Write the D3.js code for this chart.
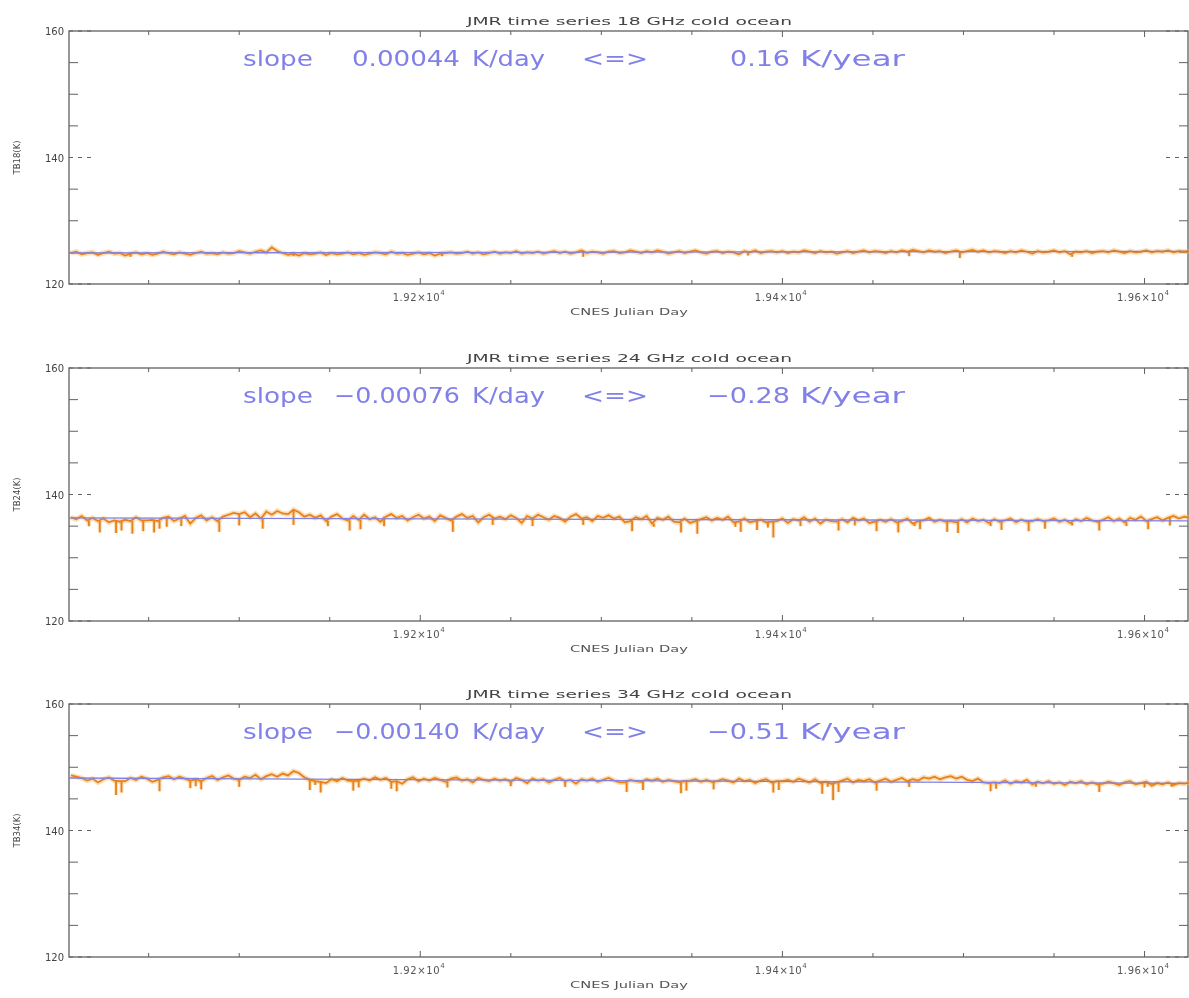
<!DOCTYPE html>
<html>
<head>
  <title>JMR time series</title>
    <meta charset="utf-8">
    <script src="https://d3js.org/d3.v7.min.js"></script>
    <style>
      body { margin: 0; background: #fff; overflow: hidden; }
      svg { display: block; filter: blur(0.5px); }
    </style>
</head>
<body>
    <script>
    // sample days (every 3 days, CNES Julian Day)
    var days = d3.range(19007, 19626, 3);

    var tb18 = [124.9,125.1,124.7,124.9,125.0,124.6,124.9,125.1,124.8,124.9,
      124.5,124.8,125.0,124.7,124.9,124.6,124.8,125.1,124.9,124.7,
      125.0,124.8,124.6,124.9,125.1,124.8,124.9,124.7,125.0,124.8,
      124.9,125.2,125.0,124.8,125.1,125.3,125.0,125.8,125.2,124.9,
      124.6,124.8,124.5,124.9,124.7,124.8,125.0,124.6,124.9,124.7,
      124.8,125.0,124.7,124.9,124.6,124.8,125.0,124.9,124.7,125.1,
      124.8,124.9,124.6,124.8,125.0,124.7,124.9,124.5,124.8,124.9,
      125.0,124.8,124.9,125.1,124.8,125.0,124.7,124.9,125.1,124.8,
      125.0,124.9,125.2,124.8,125.0,124.9,125.1,124.8,125.0,125.2,
      124.9,125.1,124.8,125.0,125.3,124.9,125.1,125.0,124.8,125.1,
      125.2,124.9,125.0,125.3,125.1,124.9,125.2,125.0,125.3,125.1,
      124.8,125.0,125.2,124.9,125.1,125.3,125.0,124.8,125.1,125.2,
      124.9,125.1,125.0,124.7,125.2,125.0,125.3,124.9,125.1,125.2,
      125.0,125.2,124.9,125.1,125.0,125.3,125.1,124.9,125.2,125.0,
      125.1,124.8,125.0,125.2,124.9,125.1,125.3,125.0,125.2,125.1,
      124.9,125.2,125.0,125.3,125.1,125.4,125.2,125.0,125.3,125.1,
      125.2,124.9,125.1,125.3,125.0,125.2,125.4,125.1,125.3,125.0,
      125.2,125.1,124.9,125.2,125.0,125.3,125.1,124.8,125.2,125.0,
      125.1,125.3,125.0,125.2,124.7,125.1,125.0,125.2,124.9,125.1,
      125.2,125.0,125.3,125.1,124.9,125.2,125.0,125.1,125.3,125.0,
      125.2,125.1,125.3,125.0,125.2,125.1,125.2];

    var tb24 = [136.4,136.1,136.6,135.9,136.3,135.8,136.2,135.6,135.9,135.7,
      136.0,135.8,136.4,135.9,135.9,136.0,135.8,136.3,136.5,135.8,
      136.2,136.6,135.4,136.3,136.7,135.9,136.4,135.8,136.5,136.8,
      137.1,136.9,137.2,136.4,137.0,136.2,137.3,136.8,137.4,137.0,
      136.9,137.6,137.2,136.5,136.8,136.3,136.7,135.8,136.5,136.9,
      136.2,135.9,136.6,136.0,136.8,136.1,136.4,135.7,136.5,136.9,
      136.3,136.6,135.9,136.4,136.8,136.2,136.5,135.8,136.7,136.3,
      135.9,136.5,136.9,136.3,136.6,135.6,136.4,136.8,136.2,136.5,
      136.1,136.7,136.3,135.5,136.6,136.2,136.8,136.4,136.0,136.6,
      136.3,135.7,136.5,136.9,136.2,136.4,135.8,136.6,136.3,136.7,
      136.2,136.5,135.6,135.8,136.4,136.1,136.6,135.4,136.3,136.0,
      136.5,135.7,135.6,136.2,135.5,135.8,136.1,136.4,135.9,136.3,
      136.0,136.5,135.6,135.7,136.2,135.6,135.8,136.0,135.6,135.7,
      135.8,136.2,135.5,136.1,135.9,136.4,135.7,136.2,135.4,136.0,
      135.8,135.7,136.1,135.6,136.3,135.9,136.2,135.5,135.7,136.0,
      135.7,136.1,135.6,135.8,136.2,135.4,135.8,135.9,136.3,135.7,
      136.0,135.7,135.8,135.6,136.1,135.6,136.2,135.8,136.0,135.5,
      136.1,135.7,135.9,136.2,135.6,136.0,135.7,135.8,136.1,135.8,
      135.9,136.2,135.7,136.0,135.5,136.1,135.8,136.3,135.9,135.7,
      136.0,136.4,135.8,136.2,135.6,136.3,136.0,136.5,135.8,136.1,
      136.4,135.9,136.3,136.6,136.2,136.5,136.3];

    var tb34 = [148.7,148.5,148.3,147.9,148.2,147.6,148.1,148.4,147.9,147.8,
      147.8,148.3,148.0,148.5,148.2,147.7,148.0,148.4,148.6,148.1,
      148.5,148.2,147.9,148.1,147.8,148.3,148.6,148.0,148.4,148.7,
      148.2,148.0,148.5,148.3,148.8,148.1,148.6,148.9,148.5,149.0,
      148.7,149.4,149.1,148.4,148.0,147.8,147.7,147.5,148.1,147.8,
      148.3,147.9,147.8,147.9,148.2,147.9,148.4,148.0,148.3,147.7,
      147.8,147.4,148.1,148.4,147.8,148.2,147.9,148.3,148.0,147.7,
      148.2,148.4,147.9,148.1,147.6,148.3,148.0,147.8,148.2,147.9,
      148.1,147.7,148.3,148.0,147.5,148.2,147.9,148.1,147.6,148.0,
      148.3,147.8,148.0,147.4,148.1,147.9,148.2,147.7,148.0,148.3,
      147.9,147.6,147.6,148.0,147.8,147.7,148.1,147.9,148.2,147.7,
      148.0,147.8,147.6,147.8,147.9,148.1,147.7,148.0,147.7,147.8,
      148.1,147.9,147.6,148.2,147.8,148.0,147.5,147.9,148.1,147.6,
      147.8,147.8,148.0,147.7,148.2,147.9,147.6,148.1,147.5,147.7,
      147.4,147.6,147.9,148.2,147.6,148.0,147.8,148.1,147.6,147.9,
      148.2,147.7,148.0,148.3,147.8,148.1,147.9,148.4,148.2,148.5,
      148.1,148.4,148.6,148.2,148.5,148.0,147.8,148.2,147.6,147.5,
      147.6,147.5,147.9,147.4,147.8,147.6,148.0,147.3,147.7,147.5,
      147.8,147.4,147.6,147.2,147.7,147.5,147.8,147.3,147.6,147.3,
      147.4,147.7,147.5,147.2,147.6,147.8,147.3,147.5,147.7,147.1,
      147.5,147.3,147.6,147.2,147.5,147.4,147.6];

    // short cold-side excursions: [day, lowest TB]
    var tb18Dips = [[19040, 124.3], [19130, 124.4], [19212, 124.4], [19290, 124.3],
      [19381, 124.5], [19470, 124.4], [19498, 124.1], [19560, 124.3]];
    var tb24Dips = [[19017, 135.0], [19023, 134.0], [19032, 133.9], [19035, 134.3],
      [19041, 133.8], [19047, 134.2], [19053, 134.0], [19056, 134.6], [19060, 134.9],
      [19068, 135.0], [19089, 134.1], [19100, 135.1], [19113, 134.6], [19130, 135.2],
      [19149, 135.0], [19161, 134.3], [19167, 134.5], [19180, 135.0], [19218, 134.1],
      [19240, 135.2], [19262, 135.0], [19290, 135.2], [19317, 134.2], [19329, 134.9],
      [19344, 134.0], [19353, 133.8], [19374, 134.9], [19377, 134.1], [19386, 134.4],
      [19392, 134.8], [19395, 133.2], [19410, 135.0], [19431, 134.3], [19440, 135.1],
      [19452, 134.2], [19464, 134.0], [19473, 135.0], [19476, 134.5], [19491, 134.1],
      [19497, 133.9], [19515, 135.0], [19521, 134.4], [19536, 134.2], [19545, 134.6],
      [19560, 135.1], [19575, 134.3], [19590, 135.0], [19602, 134.5], [19614, 135.1]];
    var tb34Dips = [[19032, 145.6], [19035, 146.0], [19056, 146.2], [19073, 146.7],
      [19076, 147.0], [19079, 146.5], [19100, 146.9], [19139, 146.4], [19142, 147.2],
      [19145, 146.0], [19163, 146.3], [19166, 146.8], [19184, 146.6], [19187, 146.2],
      [19215, 146.8], [19250, 147.0], [19280, 146.9], [19314, 146.1], [19323, 146.4],
      [19344, 145.9], [19347, 146.3], [19362, 146.5], [19395, 146.0], [19398, 146.4],
      [19422, 145.8], [19425, 146.9], [19428, 144.8], [19431, 146.1], [19452, 146.3],
      [19470, 146.9], [19515, 146.2], [19518, 146.6], [19540, 146.9], [19575, 146.1],
      [19600, 146.8], [19615, 146.9]];

    var channels = ["18", "24", "34"];
    var slopesDay = ["0.00044", "-0.00076", "-0.00140"];
    var slopesYear = ["0.16", "-0.28", "-0.51"];
    var trendStart = [124.9, 136.3, 148.3];   // trend value at first axis day
    var series = [tb18, tb24, tb34];
    var dips = [tb18Dips, tb24Dips, tb34Dips];

    var yTicks = [120, 140, 160];
    var yMinor = [125, 130, 135, 145, 150, 155];
    var xTicks = [19200, 19400, 19600];
    var xMinor = [19050, 19100, 19150, 19250, 19300, 19350, 19450, 19500, 19550];
    var xTickText = ["1.92", "1.94", "1.96"];

    var svg_w = 1189;
    var svg_h = 998;
    var left = 69, right = 1188;
    var panelTop = [31, 368, 704];
    var panel_h = 253;
    var axisColor = "#606060";
    var orange = "#e8801c";
    var blue = "#8080e8";
    var font = "DejaVu Sans";

    var svg = d3.select("body")
        .append("svg")
        .attr("width", svg_w)
        .attr("height", svg_h);

    var xscale = d3.scaleLinear()
        .domain([19006, 19624])
        .range([left, right]);

    channels.forEach(function (ch, k) {
      var top = panelTop[k];
      var yscale = d3.scaleLinear()
          .domain([120, 160])
          .range([top + panel_h, top]);
      var g = svg.append("g");

      // box
      g.append("rect")
        .attr("x", left).attr("y", top)
        .attr("width", right - left).attr("height", panel_h)
        .style("fill", "none").style("stroke", axisColor).style("stroke-width", 1.3);

      // left + right ticks
      [left, right].forEach(function (ax, side) {
        var dir = side == 0 ? 1 : -1;
        g.selectAll(".ymin" + side).data(yMinor).enter().append("line")
          .attr("x1", ax).attr("x2", ax + dir * 9)
          .attr("y1", function (d) { return yscale(d); })
          .attr("y2", function (d) { return yscale(d); })
          .style("stroke", axisColor).style("stroke-width", 1);
        g.selectAll(".ymaj" + side).data(yTicks).enter().append("line")
          .attr("x1", ax).attr("x2", ax + dir * 24)
          .attr("y1", function (d) { return yscale(d); })
          .attr("y2", function (d) { return yscale(d); })
          .style("stroke", axisColor).style("stroke-width", 1)
          .style("stroke-dasharray", "4,5");
      });

      // bottom + top ticks
      [top + panel_h, top].forEach(function (ay, side) {
        var dir = side == 0 ? -1 : 1;
        g.selectAll(".xmin" + side).data(xMinor).enter().append("line")
          .attr("y1", ay).attr("y2", ay + dir * 4)
          .attr("x1", function (d) { return xscale(d); })
          .attr("x2", function (d) { return xscale(d); })
          .style("stroke", axisColor).style("stroke-width", 1);
        g.selectAll(".xmaj" + side).data(xTicks).enter().append("line")
          .attr("y1", ay).attr("y2", ay + dir * 6)
          .attr("x1", function (d) { return xscale(d); })
          .attr("x2", function (d) { return xscale(d); })
          .style("stroke", axisColor).style("stroke-width", 1);
      });

      // y tick labels
      g.selectAll(".ylab").data(yTicks).enter().append("text")
        .attr("x", left - 5)
        .attr("y", function (d) { return yscale(d) + 4; })
        .style("text-anchor", "end")
        .style("font-family", font)
        .style("font-size", "10px")
        .style("fill", "#444")
        .text(function (d) { return d; });

      // x tick labels  1.92x10^4
      var xl = g.selectAll(".xlab").data(xTicks).enter().append("text")
        .attr("x", function (d) { return xscale(d) + 25; })
        .attr("y", top + panel_h + 17)
        .style("text-anchor", "end")
        .style("font-family", font)
        .style("font-size", "10px")
        .style("letter-spacing", "0.6px")
        .style("fill", "#555");
      xl.append("tspan").text(function (d, i) { return xTickText[i] + "\u00d710"; });
      xl.append("tspan").attr("dy", -6).style("font-size", "7px").text("4");

      // axis labels
      g.append("text")
        .attr("x", 570).attr("y", top + panel_h + 31)
        .attr("textLength", 118).attr("lengthAdjust", "spacingAndGlyphs")
        .style("font-family", font)
        .style("font-size", "8px")
        .style("fill", "#555")
        .text("CNES Julian Day");

      g.append("text")
        .attr("transform", "translate(20," + yscale(140) + ") rotate(-90)")
        .style("text-anchor", "middle")
        .style("font-family", font)
        .style("font-size", "8.5px")
        .style("fill", "#444")
        .text("TB" + ch + "(K)");

      // title
      g.append("text")
        .attr("x", 467).attr("y", top - 6)
        .attr("textLength", 325).attr("lengthAdjust", "spacingAndGlyphs")
        .style("font-family", font)
        .style("font-size", "10px")
        .style("fill", "#444")
        .text("JMR time series " + ch + " GHz cold ocean");

      // data
      var pts = days.map(function (d, i) { return [d, series[k][i]]; });
      var line = d3.line()
          .x(function (d) { return xscale(d[0]); })
          .y(function (d) { return yscale(d[1]); });
      var bisect = d3.bisector(function (d) { return d[0]; }).center;

      g.append("path")
        .datum(pts)
        .attr("d", line)
        .style("fill", "none")
        .style("stroke", "#f7b860")
        .style("stroke-opacity", 0.45)
        .style("stroke-width", 5);
      g.selectAll(".diphalo").data(dips[k]).enter().append("line")
        .attr("x1", function (d) { return xscale(d[0]); })
        .attr("x2", function (d) { return xscale(d[0]); })
        .attr("y1", function (d) { return yscale(pts[bisect(pts, d[0])][1]); })
        .attr("y2", function (d) { return yscale(d[1]); })
        .style("stroke", "#f7b860").style("stroke-opacity", 0.45)
        .style("stroke-width", 4);
      g.append("path")
        .datum(pts)
        .attr("d", line)
        .style("fill", "none")
        .style("stroke", orange)
        .style("stroke-width", 1.8);
      g.selectAll(".dip").data(dips[k]).enter().append("line")
        .attr("x1", function (d) { return xscale(d[0]); })
        .attr("x2", function (d) { return xscale(d[0]); })
        .attr("y1", function (d) { return yscale(pts[bisect(pts, d[0])][1]); })
        .attr("y2", function (d) { return yscale(d[1]); })
        .style("stroke", orange)
        .style("stroke-width", 1.8);

      // linear trend
      var d0 = xscale.domain()[0], d1 = xscale.domain()[1];
      var slope = +slopesDay[k];
      g.append("line")
        .attr("x1", xscale(d0)).attr("x2", xscale(d1))
        .attr("y1", yscale(trendStart[k]))
        .attr("y2", yscale(trendStart[k] + slope * (d1 - d0)))
        .style("stroke", blue).style("stroke-width", 1.3);

      // slope annotation, token by token: [text, x, width]
      var neg = slope < 0;
      var parts = [["slope", 243, 70],
                   [slopesDay[k], neg ? 334 : 352, neg ? 126 : 108],
                   ["K/day", 472, 73],
                   ["<=>", 582, 66],
                   [slopesYear[k], neg ? 707 : 730, neg ? 83 : 60],
                   ["K/year", 800, 105]];
      g.selectAll(".slope").data(parts).enter().append("text")
        .attr("x", function (d) { return d[1]; })
        .attr("y", top + 35)
        .attr("textLength", function (d) { return d[2]; })
        .attr("lengthAdjust", "spacingAndGlyphs")
        .style("font-family", font)
        .style("font-size", "22px")
        .style("fill", blue)
        .text(function (d) { return d[0].replace("-", "\u2212"); });
    });
    </script>
</body>
</html>
